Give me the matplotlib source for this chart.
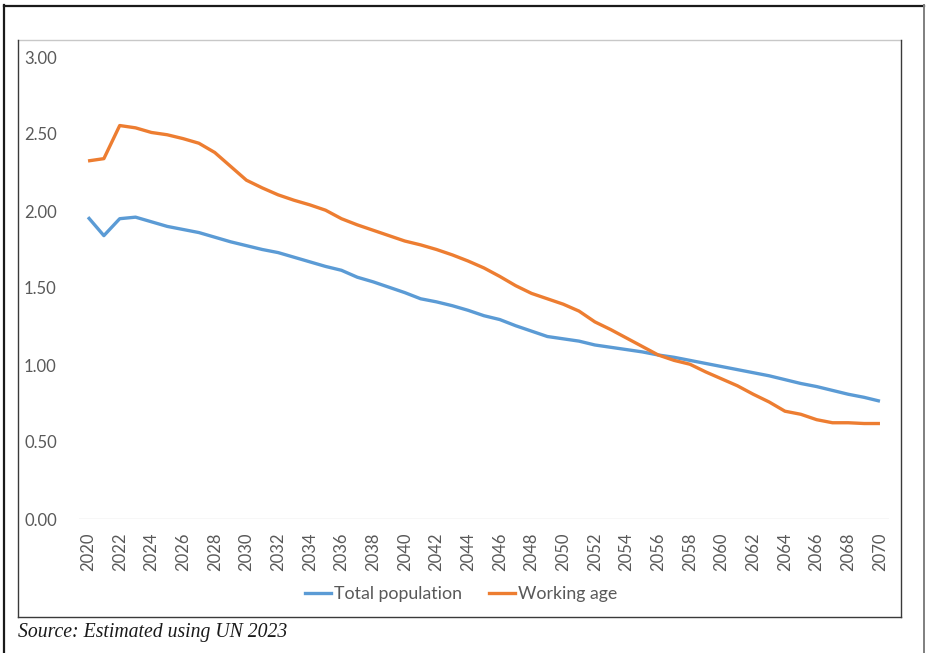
import matplotlib
matplotlib.use("Agg")
import matplotlib.pyplot as plt
from matplotlib.lines import Line2D

years = list(range(2020, 2071))

total_population = [
    1.96, 1.84, 1.95, 1.96, 1.93, 1.90, 1.88, 1.86, 1.83, 1.80,
    1.775, 1.75, 1.73, 1.70, 1.67, 1.64, 1.615, 1.57, 1.54, 1.505,
    1.47, 1.43, 1.41, 1.385, 1.355, 1.32, 1.295, 1.255, 1.22, 1.185,
    1.17, 1.155, 1.13, 1.115, 1.10, 1.085, 1.065, 1.05, 1.03, 1.01,
    0.99, 0.97, 0.95, 0.93, 0.905, 0.88, 0.86, 0.835, 0.81, 0.79,
    0.765,
]

working_age = [
    2.325, 2.34, 2.555, 2.54, 2.51, 2.495, 2.47, 2.44, 2.38, 2.29,
    2.20, 2.15, 2.105, 2.07, 2.04, 2.005, 1.95, 1.91, 1.875, 1.84,
    1.805, 1.78, 1.75, 1.715, 1.675, 1.63, 1.575, 1.515, 1.465, 1.43,
    1.395, 1.35, 1.28, 1.23, 1.175, 1.12, 1.065, 1.03, 1.005, 0.955,
    0.91, 0.865, 0.81, 0.76, 0.70, 0.68, 0.645, 0.625, 0.625, 0.62,
    0.62,
]

series_labels = ["Total population", "Working age"]
series_colors = ["#5B9BD5", "#ED7D31"]
y_ticks = [0.0, 0.5, 1.0, 1.5, 2.0, 2.5, 3.0]
x_ticks = list(range(2020, 2071, 2))
source_note = "Source: Estimated using UN 2023"

W, H = 926, 653
fig = plt.figure(figsize=(W / 100, H / 100), dpi=100)
fig.patch.set_facecolor("white")

def fx(px):
    return px / W

def fy(py):
    return 1 - py / H

# outer page frame
fig.add_artist(Line2D([fx(4), fx(4)], [fy(5), fy(653)], color="#1a1a1a", lw=1.6))
fig.add_artist(Line2D([fx(4), fx(924)], [fy(5.5), fy(5.5)], color="#1a1a1a", lw=1.6))
fig.add_artist(Line2D([fx(924), fx(924)], [fy(5), fy(653)], color="#7f7f7f", lw=1.4))

# chart box
fig.add_artist(Line2D([fx(18), fx(901)], [fy(40), fy(40)], color="#c8c8c8", lw=1.0))
fig.add_artist(Line2D([fx(18), fx(18)], [fy(40), fy(617)], color="#3a3a3a", lw=1.0))
fig.add_artist(Line2D([fx(901), fx(901)], [fy(40), fy(617)], color="#3a3a3a", lw=1.0))
fig.add_artist(Line2D([fx(18), fx(901)], [fy(617), fy(617)], color="#3a3a3a", lw=1.0))

ax = fig.add_axes([fx(79), fy(519), fx(889) - fx(79), fy(57) - fy(519)])
ax.set_facecolor("none")

for vals, lab, col in zip([total_population, working_age], series_labels, series_colors):
    ax.plot(years, vals, color=col, lw=2.4, label=lab, solid_capstyle="butt",
            solid_joinstyle="round")

ax.set_xlim(2019.43, 2070.57)
ax.set_ylim(0, 3.0)
ax.axhline(0, color="#d9d9d9", lw=1.0, zorder=0)

for s in ax.spines.values():
    s.set_visible(False)

tick_color = "#595959"
font = "Lato"
ax.set_yticks(y_ticks)
ax.set_yticklabels([f"{v:.2f}" for v in y_ticks], fontsize=12, color=tick_color,
                   fontfamily=font)
ax.set_xticks(x_ticks)
ax.set_xticklabels([str(y) for y in x_ticks], rotation=90, fontsize=12,
                   color=tick_color, fontfamily=font)
ax.tick_params(axis="y", length=0, pad=16)
ax.tick_params(axis="x", length=0, pad=10)

handles = [Line2D([0], [0], color=c, lw=2.4) for c in series_colors]
leg = fig.legend(handles, series_labels, loc="center", bbox_to_anchor=(fx(461), fy(594)),
                 ncol=2, frameon=False, handlelength=1.5, handletextpad=0.15,
                 columnspacing=1.5, prop={"family": font, "size": 12.8})
for t in leg.get_texts():
    t.set_color(tick_color)

fig.text(fx(18), fy(632), source_note, fontsize=14.2, fontstyle="italic",
         fontfamily="Liberation Serif", color="#1a1a1a", va="center", ha="left")

fig.savefig("out.png", dpi=100)
